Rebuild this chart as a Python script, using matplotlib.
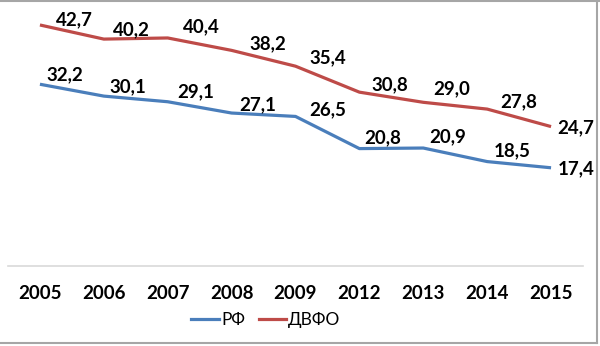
import matplotlib
matplotlib.use("Agg")
import matplotlib.pyplot as plt
from matplotlib.lines import Line2D

years = ["2005", "2006", "2007", "2008", "2009", "2012", "2013", "2014", "2015"]
rf = [32.2, 30.1, 29.1, 27.1, 26.5, 20.8, 20.9, 18.5, 17.4]
dvfo = [42.7, 40.2, 40.4, 38.2, 35.4, 30.8, 29.0, 27.8, 24.7]
series_names = ["РФ", "ДВФО"]

# label offsets (pixels, x right / y up) relative to each point
rf_off = [(25, 9), (24, 9), (28, 10), (26, 8), (32, 7), (23, 11), (24, 11), (25, 11), (25, -1)]
dvfo_off = [(34, 5), (28, 9), (34, 11), (36, 7), (32, 8), (30, 7), (28, 14), (32, 7), (25, -1)]

W, H = 600, 346
fig = plt.figure(figsize=(W / 100, H / 100), dpi=100)
fig.patch.set_facecolor("white")
ax = fig.add_axes([8 / W, 80 / H, 575 / W, 254 / H])

blue = "#4A7EBB"
red = "#BE4B48"
x = list(range(len(years)))
ax.plot(x, rf, color=blue, lw=2.3, solid_capstyle="butt")
ax.plot(x, dvfo, color=red, lw=2.3, solid_capstyle="butt")

font = "Lato"
for vals, offs in ((rf, rf_off), (dvfo, dvfo_off)):
    for i, (v, o) in enumerate(zip(vals, offs)):
        ax.annotate(f"{v:.1f}".replace(".", ","), (i, v), xytext=(o[0] * 0.72, o[1] * 0.72),
                    textcoords="offset points", ha="center", va="center",
                    fontsize=13.5, fontweight="bold", family=font, color="black")

ax.set_xlim(-0.5, len(years) - 0.5)
ax.set_ylim(0, 45)
ax.set_xticks(x)
ax.set_xticklabels(years, fontsize=13.5, fontweight="bold", family=font)
ax.tick_params(axis="x", length=0, pad=14)
ax.set_yticks([])
for s in ("top", "right", "left"):
    ax.spines[s].set_visible(False)
ax.spines["bottom"].set_color("#D9D9D9")
ax.spines["bottom"].set_linewidth(1.2)
ax.patch.set_alpha(0)

handles = [Line2D([], [], color=blue, lw=2.3), Line2D([], [], color=red, lw=2.3)]
fig.legend(handles, series_names, loc="center", bbox_to_anchor=(266 / W, 1 - 320 / H),
           ncol=2, frameon=False, handlelength=1.6, handletextpad=0.1, columnspacing=0.8,
           prop={"family": font, "size": 12.5})

# frame border (top, right, bottom)
border = "#A6A6A6"
fig.add_artist(Line2D([0, 1], [1 - 0.5 / H, 1 - 0.5 / H], color=border, lw=1.5, transform=fig.transFigure))
fig.add_artist(Line2D([597 / W, 597 / W], [1 - 0.5 / H, 3 / H], color=border, lw=1.5, transform=fig.transFigure))
fig.add_artist(Line2D([0, 597 / W], [3 / H, 3 / H], color=border, lw=1.5, transform=fig.transFigure))

fig.savefig("out.png", dpi=100, facecolor="white")
